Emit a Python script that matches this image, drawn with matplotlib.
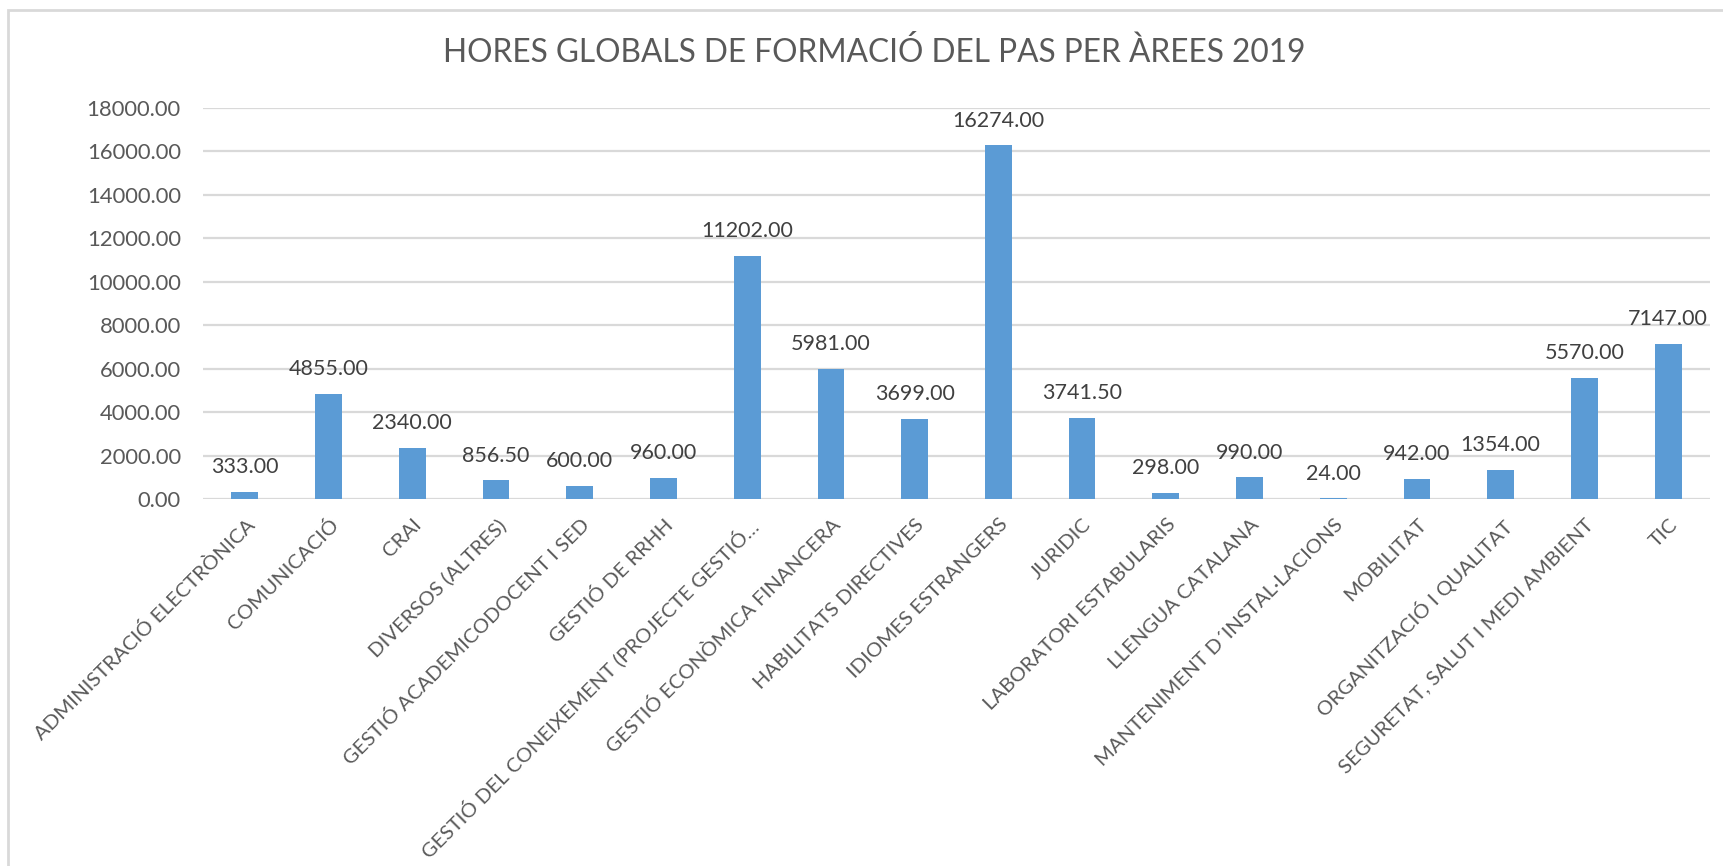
import matplotlib.pyplot as plt
import matplotlib.transforms as mtransforms
from matplotlib.patches import Rectangle
import numpy as np

plt.rcParams["font.family"] = ["Lato", "DejaVu Sans"]

TITLE = "HORES GLOBALS DE FORMACIÓ DEL PAS PER ÀREES 2019"

AREAS = [
    "ADMINISTRACIÓ ELECTRÒNICA",
    "COMUNICACIÓ",
    "CRAI",
    "DIVERSOS (ALTRES)",
    "GESTIÓ ACADEMICODOCENT I SED",
    "GESTIÓ DE RRHH",
    "GESTIÓ DEL CONEIXEMENT (PROJECTE GESTIÓ…",
    "GESTIÓ ECONÒMICA FINANCERA",
    "HABILITATS DIRECTIVES",
    "IDIOMES ESTRANGERS",
    "JURIDIC",
    "LABORATORI ESTABULARIS",
    "LLENGUA CATALANA",
    "MANTENIMENT D´INSTAL·LACIONS",
    "MOBILITAT",
    "ORGANITZACIÓ I QUALITAT",
    "SEGURETAT, SALUT I MEDI AMBIENT",
    "TIC",
]
HOURS = [333.00, 4855.00, 2340.00, 856.50, 600.00, 960.00, 11202.00,
         5981.00, 3699.00, 16274.00, 3741.50, 298.00, 990.00, 24.00,
         942.00, 1354.00, 5570.00, 7147.00]
Y_TICKS = np.arange(0, 18001, 2000)

BAR = "#5B9BD5"
GRID = "#D9D9D9"
TXT = "#595959"
LBL = "#404040"

fig = plt.figure(figsize=(17.24, 8.66), dpi=100)
ax = fig.add_axes([203 / 1724, 1 - 499 / 866, (1710 - 203) / 1724, (499 - 108) / 866])

# chart-area border, as in the spreadsheet export
fig.patches.append(Rectangle((8 / 1724, -0.05), 1.1, 1 - 10 / 866 + 0.05,
                             transform=fig.transFigure, fill=False,
                             ec=GRID, lw=2))

x = np.arange(len(AREAS))
ax.bar(x, HOURS, width=0.32, color=BAR, zorder=3)
for xi, v in zip(x, HOURS):
    ax.annotate(f"{v:.2f}", (xi, v), xytext=(0, 13.5), textcoords="offset points",
                ha="center", va="baseline", fontsize=15.5, color=LBL)

ax.set_xlim(-0.5, len(AREAS) - 0.5)
ax.set_ylim(0, 18000)
ax.set_yticks(Y_TICKS)
ax.set_yticklabels([f"{t:.2f}" for t in Y_TICKS], fontsize=15.8, color=TXT)
ax.tick_params(axis="y", length=0, pad=16)
ax.grid(axis="y", color=GRID, lw=1.6, zorder=0)
for s in ax.spines.values():
    s.set_visible(False)

ax.set_xticks(x)
ax.set_xticklabels(AREAS, rotation=45, ha="right", va="top",
                   rotation_mode="anchor", fontsize=14.7, color=TXT)
ax.tick_params(axis="x", length=0, pad=12)
shift = mtransforms.ScaledTranslation(0.5 / 100, 0, fig.dpi_scale_trans)
for lab in ax.get_xticklabels():
    lab.set_transform(lab.get_transform() + shift)

fig.text(874 / 1724, 1 - 53 / 866, TITLE, ha="center", va="center",
         fontsize=22.8, color=TXT)

fig.savefig("out.png", dpi=100, facecolor="white")
